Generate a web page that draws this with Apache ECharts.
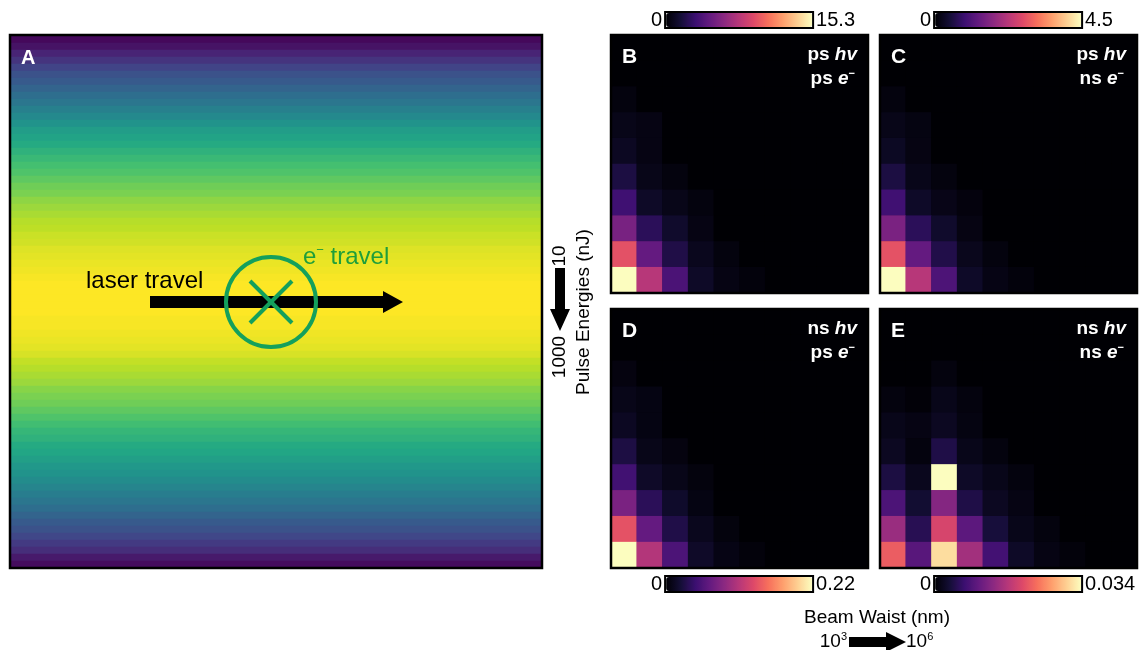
<!DOCTYPE html>
<html>
<head>
<meta charset="utf-8">
<script src="https://cdn.jsdelivr.net/npm/echarts@6/dist/echarts.min.js"></script>
<style>
html,body{margin:0;padding:0;background:#fff;}
#c{width:1140px;height:650px;}
</style>
</head>
<body>
<div id="c"></div>
<script>
// ---------------- DATA ----------------
// Panel A: normalised laser intensity per row (top -> bottom)
const laserColumns = ['0'];
const laserProfile = [
  0.02, 0.05, 0.10, 0.15, 0.20, 0.25, 0.28, 0.32, 0.36, 0.39,
  0.43, 0.47, 0.51, 0.55, 0.58, 0.61, 0.64, 0.67, 0.70, 0.72,
  0.75, 0.78, 0.80, 0.83, 0.85, 0.87, 0.89, 0.90, 0.92, 0.93,
  0.95, 0.96, 0.97, 0.98, 0.99, 1.00, 1.00, 1.00, 1.00, 1.00,
  0.99, 0.99, 0.98, 0.97, 0.96, 0.94, 0.91, 0.89, 0.87, 0.85,
  0.82, 0.80, 0.78, 0.75, 0.72, 0.69, 0.66, 0.64, 0.61, 0.59,
  0.56, 0.53, 0.51, 0.48, 0.45, 0.42, 0.39, 0.36, 0.32, 0.28,
  0.25, 0.21, 0.17, 0.13, 0.07, 0.03
];
const laserRows = laserProfile.map((v, i) => String(i));

// Panels B-E: beam waist bins (10^3 -> 10^6 nm), pulse energy bins (10 -> 1000 nJ, top -> bottom)
const beamWaistBins = ['w1','w2','w3','w4','w5','w6','w7','w8','w9','w10'];
const pulseEnergyBins = ['e1','e2','e3','e4','e5','e6','e7','e8','e9','e10'];

const panelB = [
  [0,0,0,0,0,0,0,0,0,0],
  [0,0,0,0,0,0,0,0,0,0],
  [0.31,0,0,0,0,0,0,0,0,0],
  [0.61,0.46,0,0,0,0,0,0,0,0],
  [0.92,0.46,0,0,0,0,0,0,0,0],
  [1.84,0.61,0.31,0,0,0,0,0,0,0],
  [3.21,1.07,0.61,0.31,0,0,0,0,0,0],
  [5.36,2.45,1.22,0.46,0,0,0,0,0,0],
  [9.49,4.59,1.99,0.77,0.31,0,0,0,0,0],
  [15.3,7.65,3.67,1.07,0.46,0.23,0,0,0,0]
];
const panelC = [
  [0,0,0,0,0,0,0,0,0,0],
  [0,0,0,0,0,0,0,0,0,0],
  [0.09,0,0,0,0,0,0,0,0,0],
  [0.18,0.12,0,0,0,0,0,0,0,0],
  [0.28,0.13,0,0,0,0,0,0,0,0],
  [0.54,0.19,0.09,0,0,0,0,0,0,0],
  [0.95,0.32,0.17,0.08,0,0,0,0,0,0],
  [1.60,0.72,0.36,0.13,0,0,0,0,0,0],
  [2.80,1.35,0.60,0.22,0.09,0,0,0,0,0],
  [4.50,2.25,1.10,0.32,0.14,0.07,0,0,0,0]
];
const panelD = [
  [0,0,0,0,0,0,0,0,0,0],
  [0,0,0,0,0,0,0,0,0,0],
  [0.005,0,0,0,0,0,0,0,0,0],
  [0.009,0.006,0,0,0,0,0,0,0,0],
  [0.013,0.006,0,0,0,0,0,0,0,0],
  [0.027,0.009,0.005,0,0,0,0,0,0,0],
  [0.047,0.016,0.009,0.004,0,0,0,0,0,0],
  [0.078,0.035,0.017,0.006,0,0,0,0,0,0],
  [0.137,0.066,0.029,0.011,0.004,0,0,0,0,0],
  [0.220,0.108,0.053,0.016,0.007,0.003,0,0,0,0]
];
const panelE = [
  [0,0,0,0,0,0,0,0,0,0],
  [0,0,0,0,0,0,0,0,0,0],
  [0,0,0.0007,0,0,0,0,0,0,0],
  [0.0007,0.0003,0.0014,0.0007,0,0,0,0,0,0],
  [0.0014,0.0010,0.0020,0.0009,0,0,0,0,0,0],
  [0.0020,0.0007,0.0044,0.0014,0.0007,0,0,0,0,0],
  [0.0041,0.0017,0.0340,0.0024,0.0014,0.0007,0,0,0,0],
  [0.0082,0.0031,0.0129,0.0044,0.0020,0.0010,0,0,0,0],
  [0.0146,0.0051,0.0197,0.0095,0.0037,0.0014,0.0007,0,0,0],
  [0.0221,0.0092,0.0316,0.0153,0.0075,0.0024,0.0010,0.0005,0,0]
];
const colorbarMax = [15.3, 4.5, 0.22, 0.034];
const colorbarLabels = ['15.3', '4.5', '0.22', '0.034'];
const panelLetters = ['B', 'C', 'D', 'E'];
const photonPulse = ['ps', 'ps', 'ns', 'ns'];
const electronPulse = ['ps', 'ns', 'ps', 'ns'];

// ---------------- STYLE / LAYOUT ----------------
const FONT = '"Liberation Sans", Arial, Helvetica, sans-serif';
const magma = ['#000004','#140e36','#3b0f70','#641a80','#8c2981','#b73779','#de4968','#f7705c','#fe9f6d','#fecf92','#fcfdbf'];
const viridis = ['#440154','#482475','#414487','#355f8d','#2a788e','#21918c','#22a884','#44bf70','#7ad151','#bddf26','#fde725'];
const gridA = {left: 10, top: 36, width: 532, height: 532};
const gridPanels = [
  {left: 611, top: 35, width: 257, height: 258},
  {left: 880, top: 35, width: 257, height: 258},
  {left: 611, top: 309, width: 257, height: 259},
  {left: 880, top: 309, width: 257, height: 259}
];
const cbPos = [
  {left: 651, top: 10}, {left: 920, top: 10},
  {left: 651, top: 574}, {left: 920, top: 574}
];
const CB_LEN = 146, CB_THICK = 14, CB_GAP = 4;

const panelData = [panelB, panelC, panelD, panelE];

const grids = [Object.assign({show: false}, gridA)].concat(gridPanels.map(g =>
  Object.assign({show: true, backgroundColor: '#000004', borderWidth: 0}, g)));
const xAxes = [{type: 'category', gridIndex: 0, data: laserColumns, show: false}];
const yAxes = [{type: 'category', gridIndex: 0, data: laserRows, inverse: true, show: false}];
const series = [{
  type: 'heatmap', xAxisIndex: 0, yAxisIndex: 0,
  data: laserProfile.map((v, i) => [0, i, v]),
  emphasis: {disabled: true}, progressive: 0
}];
const visualMaps = [{
  type: 'continuous', show: false, seriesIndex: 0, min: 0, max: 1,
  inRange: {color: viridis}
}];

panelData.forEach((pd, k) => {
  xAxes.push({type: 'category', gridIndex: k + 1, data: beamWaistBins, show: false});
  yAxes.push({type: 'category', gridIndex: k + 1, data: pulseEnergyBins, inverse: true, show: false});
  const d = [];
  pd.forEach((row, r) => row.forEach((v, c) => d.push([c, r, v])));
  series.push({
    type: 'heatmap', xAxisIndex: k + 1, yAxisIndex: k + 1, data: d,
    emphasis: {disabled: true}, progressive: 0
  });
  visualMaps.push({
    type: 'continuous', seriesIndex: k + 1, min: 0, max: colorbarMax[k],
    orient: 'horizontal', itemWidth: CB_THICK, itemHeight: CB_LEN,
    text: [colorbarLabels[k], '0'], textGap: CB_GAP,
    calculable: false, hoverLink: false, padding: 0,
    left: cbPos[k].left, top: cbPos[k].top,
    textStyle: {fontSize: 20, color: '#000', fontFamily: FONT},
    inRange: {color: magma}
  });
});

// ---------------- GRAPHICS (frames, labels, annotations) ----------------
const graphics = [];
function frame(g, lw) {
  graphics.push({type: 'rect', z: 100, silent: true,
    shape: {x: g.left, y: g.top, width: g.width, height: g.height},
    style: {fill: 'none', stroke: '#000', lineWidth: lw}});
}
frame({left: gridA.left, top: gridA.top - 1, width: gridA.width, height: gridA.height + 1}, 2.5);
gridPanels.forEach(g => frame(g, 2.5));

// colour bar frames
cbPos.forEach(p => {
  const x0 = p.left + 11.1 + CB_GAP;
  graphics.push({type: 'rect', z: 100, silent: true,
    shape: {x: x0 - 1, y: p.top + 2, width: CB_LEN + 2, height: CB_THICK + 2},
    style: {fill: 'none', stroke: '#000', lineWidth: 2}});
});

// panel letters and pulse labels
gridPanels.forEach((g, k) => {
  graphics.push({type: 'text', z: 110, silent: true, x: g.left + 11, y: g.top + 22,
    style: {text: panelLetters[k], fill: '#fff', font: 'bold 21px ' + FONT,
      verticalAlign: 'middle', align: 'left'}});
  graphics.push({type: 'text', z: 110, silent: true, x: g.left + g.width - 11, y: g.top + 20,
    style: {text: '{n|' + photonPulse[k] + ' }{i|hv}', align: 'right', verticalAlign: 'middle',
      rich: {n: {fill: '#fff', font: 'bold 19px ' + FONT}, i: {fill: '#fff', font: 'italic bold 19px ' + FONT}}}});
  graphics.push({type: 'text', z: 110, silent: true, x: g.left + g.width - 13, y: g.top + 44,
    style: {text: '{n|' + electronPulse[k] + ' }{i|e}{s|−}', align: 'right', verticalAlign: 'middle',
      rich: {n: {fill: '#fff', font: 'bold 19px ' + FONT, lineHeight: 22},
             i: {fill: '#fff', font: 'italic bold 19px ' + FONT, lineHeight: 22},
             s: {fill: '#fff', font: 'bold 11px ' + FONT, verticalAlign: 'top', lineHeight: 12}}}});
});

// Panel A letter
graphics.push({type: 'text', z: 110, silent: true, x: 21, y: 58,
  style: {text: 'A', fill: '#fff', font: 'bold 20px ' + FONT, verticalAlign: 'middle'}});

// laser arrow
graphics.push({type: 'polygon', z: 105, silent: true,
  shape: {points: [[150, 296], [383, 296], [383, 291], [403, 302], [383, 313], [383, 308], [150, 308]]},
  style: {fill: '#000'}});
graphics.push({type: 'text', z: 105, silent: true, x: 86, y: 281,
  style: {text: 'laser travel', fill: '#000', font: '24px ' + FONT, verticalAlign: 'middle'}});
// electron (into page) symbol
graphics.push({type: 'circle', z: 106, silent: true, shape: {cx: 271, cy: 302, r: 45},
  style: {fill: 'none', stroke: '#14a05c', lineWidth: 4}});
graphics.push({type: 'line', z: 106, silent: true, shape: {x1: 250, y1: 281, x2: 292, y2: 323},
  style: {stroke: '#14a05c', lineWidth: 4}});
graphics.push({type: 'line', z: 106, silent: true, shape: {x1: 250, y1: 323, x2: 292, y2: 281},
  style: {stroke: '#14a05c', lineWidth: 4}});
graphics.push({type: 'text', z: 106, silent: true, x: 303, y: 257,
  style: {text: '{e|e}{s|−}{e| travel}', verticalAlign: 'middle',
    rich: {e: {fill: '#1e9e3a', font: '24px ' + FONT, lineHeight: 26},
           s: {fill: '#1e9e3a', font: '13px ' + FONT, verticalAlign: 'top', lineHeight: 14}}}});

// Y label (pulse energies)
graphics.push({type: 'text', z: 100, silent: true, x: 584, y: 312, rotation: Math.PI / 2,
  style: {text: 'Pulse Energies (nJ)', fill: '#000', font: '19px ' + FONT, align: 'center', verticalAlign: 'middle'}});
graphics.push({type: 'text', z: 100, silent: true, x: 560, y: 256, rotation: Math.PI / 2,
  style: {text: '10', fill: '#000', font: '19px ' + FONT, align: 'center', verticalAlign: 'middle'}});
graphics.push({type: 'text', z: 100, silent: true, x: 560, y: 357, rotation: Math.PI / 2,
  style: {text: '1000', fill: '#000', font: '19px ' + FONT, align: 'center', verticalAlign: 'middle'}});
graphics.push({type: 'polygon', z: 100, silent: true,
  shape: {points: [[555, 268], [565, 268], [565, 309], [570, 309], [560, 331], [550, 309], [555, 309]]},
  style: {fill: '#000'}});

// X label (beam waist)
graphics.push({type: 'text', z: 100, silent: true, x: 877, y: 618,
  style: {text: 'Beam Waist (nm)', fill: '#000', font: '19px ' + FONT, align: 'center', verticalAlign: 'middle'}});
graphics.push({type: 'text', z: 100, silent: true, x: 847, y: 642,
  style: {text: '{n|10}{s|3}', align: 'right', verticalAlign: 'middle',
    rich: {n: {fill: '#000', font: '19px ' + FONT, lineHeight: 22}, s: {fill: '#000', font: '11px ' + FONT, verticalAlign: 'top', lineHeight: 12}}}});
graphics.push({type: 'text', z: 100, silent: true, x: 906, y: 642,
  style: {text: '{n|10}{s|6}', align: 'left', verticalAlign: 'middle',
    rich: {n: {fill: '#000', font: '19px ' + FONT, lineHeight: 22}, s: {fill: '#000', font: '11px ' + FONT, verticalAlign: 'top', lineHeight: 12}}}});
graphics.push({type: 'polygon', z: 100, silent: true,
  shape: {points: [[849, 637], [886, 637], [886, 632], [906, 642], [886, 652], [886, 647], [849, 647]]},
  style: {fill: '#000'}});

const chart = echarts.init(document.getElementById('c'), null, {renderer: 'canvas'});
chart.setOption({
  animation: false,
  backgroundColor: '#fff',
  grid: grids,
  xAxis: xAxes,
  yAxis: yAxes,
  visualMap: visualMaps,
  series: series,
  graphic: graphics
});
</script>
</body>
</html>
